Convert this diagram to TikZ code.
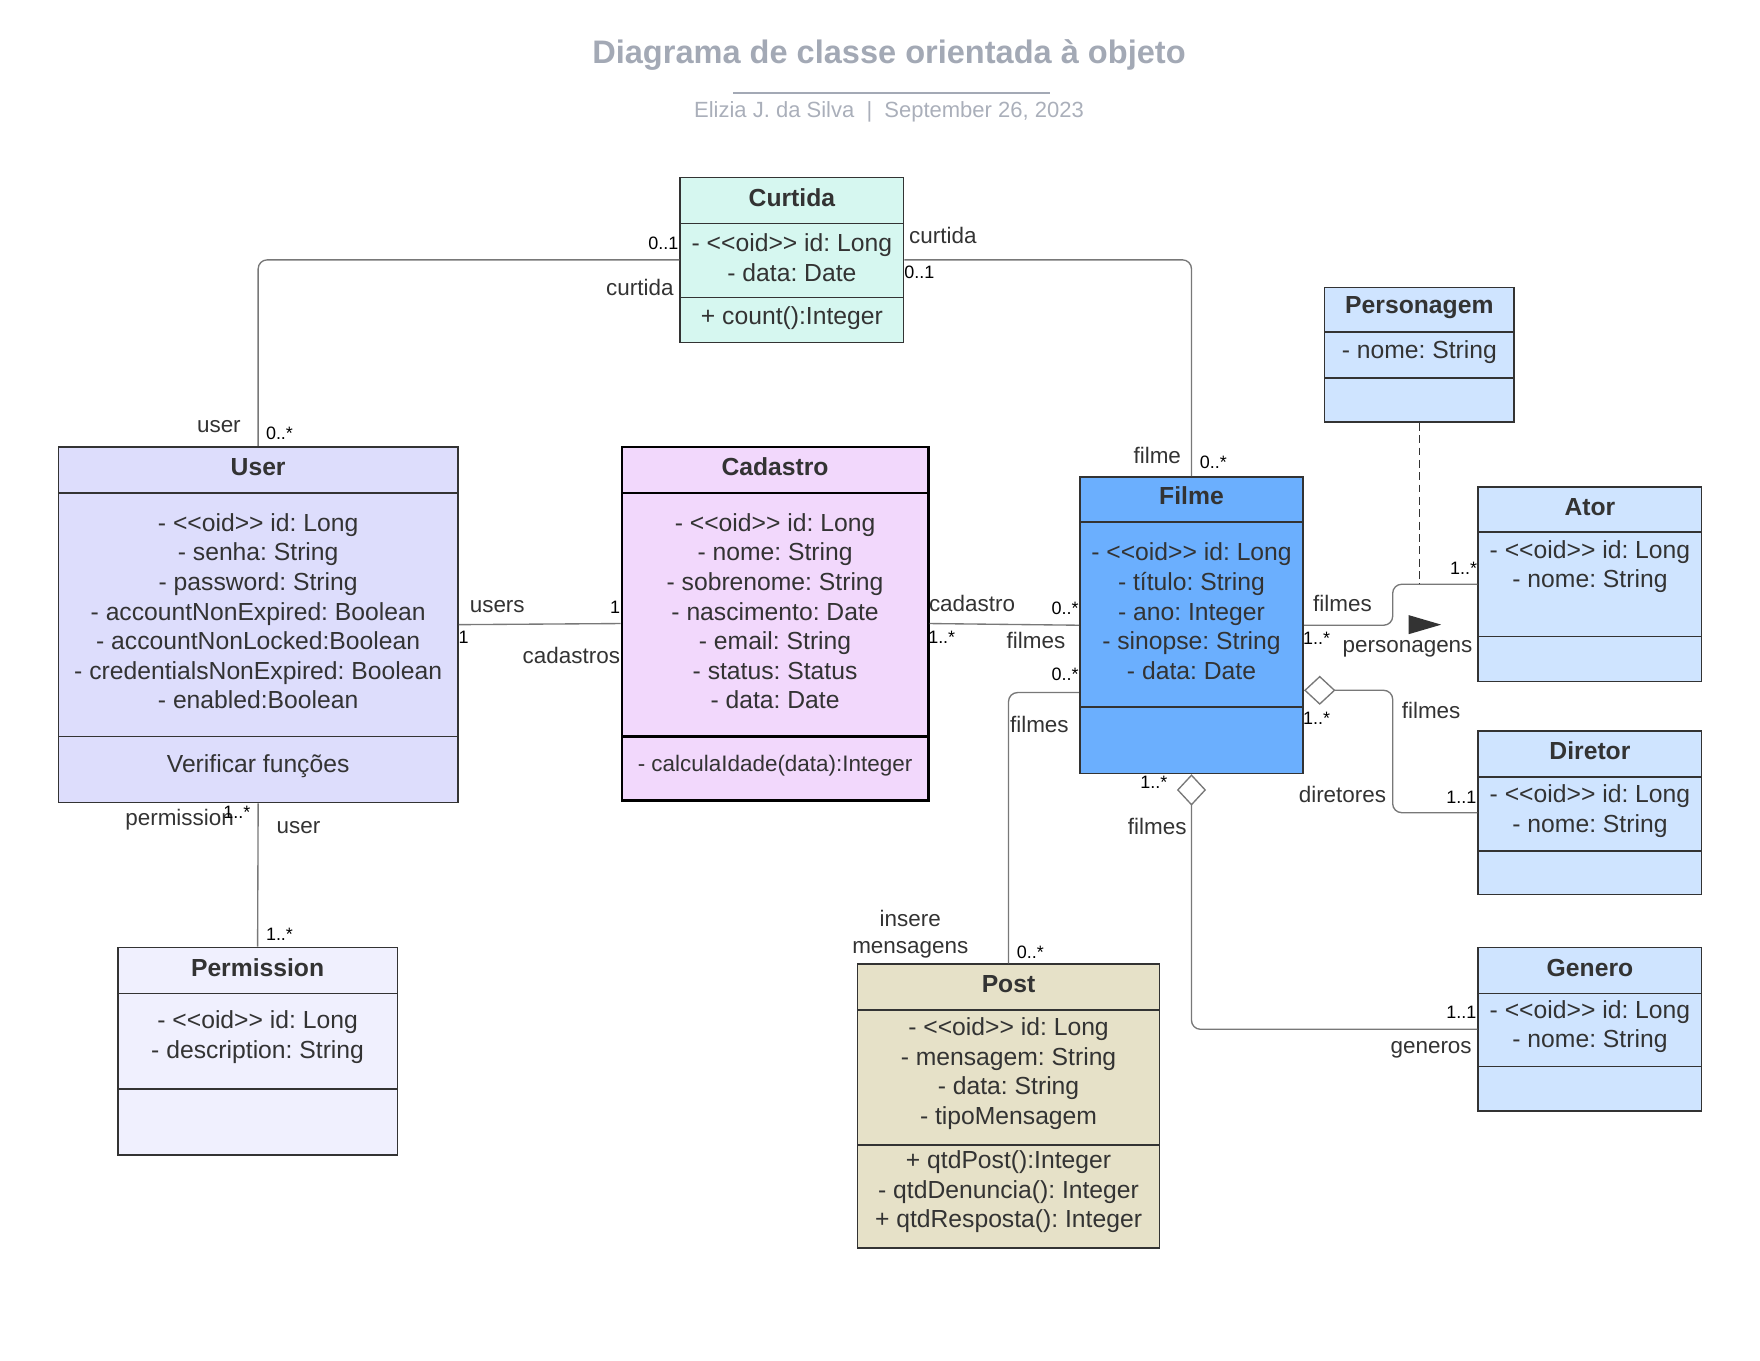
\documentclass[tikz,border=0pt]{standalone}
\usepackage{fontspec}
\setmainfont{Liberation Sans}[Ligatures=TeXOff]
\frenchspacing
\usetikzlibrary{arrows.meta,calc,fit}
\definecolor{txt}{RGB}{51,51,51}
\definecolor{boxline}{RGB}{51,51,51}
\definecolor{conn}{RGB}{120,120,120}
\definecolor{titleGrey}{RGB}{163,169,181}
\definecolor{subGrey}{RGB}{170,175,186}
\definecolor{curtidaFill}{RGB}{214,247,240}
\definecolor{userFill}{RGB}{221,221,252}
\definecolor{cadFill}{RGB}{242,216,252}
\definecolor{filmeFill}{RGB}{107,175,254}
\definecolor{blueLight}{RGB}{207,228,255}
\definecolor{permFill}{RGB}{240,240,254}
\definecolor{postFill}{RGB}{230,225,200}
\begin{document}
\begin{tikzpicture}[x=0.5pt,y=-0.5pt,
  box/.style={draw=boxline, line width=0.75pt, inner sep=0pt},
  sepline/.style={draw=boxline, line width=0.75pt},
  ttl/.style={font=\fontsize{11}{13}\selectfont\bfseries, text=txt, inner sep=0pt},
  attr/.style={font=\fontsize{11}{13.15}\selectfont, text=txt, align=center, inner sep=0pt},
  role/.style={font=\fontsize{10}{12}\selectfont, text=txt, inner sep=0pt, align=center},
  mult/.style={font=\fontsize{8}{9.6}\selectfont, text=black, inner sep=0pt},
  assoc/.style={draw=conn, line width=0.6pt, rounded corners=4pt},
  agg/.style={assoc, {Diamond[fill=white,length=14pt,width=13pt,line width=0.6pt]}-}]

\useasboundingbox (0,0) rectangle (1568,1212);

% ---------- title ----------
\node[font=\fontsize{14.5}{17}\selectfont\bfseries, text=titleGrey, inner sep=0pt] (title) at (792,49) {Diagrama de classe orientada à objeto};
\draw[titleGrey, line width=1pt] (653,83) -- (935,83);
\node[font=\fontsize{9.8}{12}\selectfont, text=subGrey, inner sep=0pt] (subtitle) at (792,100) {Elizia J. da Silva~~|~~September 26, 2023};

% ---------- Curtida ----------
\node[box, fill=curtidaFill, fit={(606,158) (805,305)}] (curtida) {};
\draw[sepline] (606,199) -- (805,199);
\draw[sepline] (606,265) -- (805,265);
\node[ttl] (curtidaT) at (705.5,176) {Curtida};
\node[attr] (curtidaA) at (705.5,229.5) {- <<oid>> id: Long\\- data: Date};
\node[attr] (curtidaM) at (705.5,283) {+ count():Integer};

% ---------- User ----------
\node[box, fill=userFill, fit={(52,398) (408,715)}] (user) {};
\draw[sepline] (52,439) -- (408,439);
\draw[sepline] (52,656) -- (408,656);
\node[ttl] (userT) at (230,416) {User};
\node[attr] (userA) at (230,544.5) {- <<oid>> id: Long\\- senha: String\\- password: String\\- accountNonExpired: Boolean\\- accountNonLocked:Boolean\\- credentialsNonExpired: Boolean\\- enabled:Boolean};
\node[attr] (userM) at (230,683) {Verificar funções};

% ---------- Cadastro ----------
\node[draw=black, line width=1.1pt, inner sep=0pt, fill=cadFill, fit={(554,398) (827,713)}] (cadastro) {};
\draw[black, line width=1.1pt] (554,439) -- (827,439);
\draw[black, line width=1.1pt] (554,656) -- (827,656);
\node[ttl] (cadastroT) at (690.5,416) {Cadastro};
\node[attr] (cadastroA) at (690.5,544.5) {- <<oid>> id: Long\\- nome: String\\- sobrenome: String\\- nascimento: Date\\- email: String\\- status: Status\\- data: Date};
\node[attr, font=\fontsize{10}{12}\selectfont] (cadastroM) at (690.5,682) {- calculaIdade(data):Integer};

% ---------- Filme ----------
\node[box, fill=filmeFill, fit={(962,425) (1161,689)}] (filme) {};
\draw[sepline] (962,465) -- (1161,465);
\draw[sepline] (962,630) -- (1161,630);
\node[ttl] (filmeT) at (1061.5,442) {Filme};
\node[attr] (filmeA) at (1061.5,544.5) {- <<oid>> id: Long\\- título: String\\- ano: Integer\\- sinopse: String\\- data: Date};

% ---------- Personagem ----------
\node[box, fill=blueLight, fit={(1180,256) (1349,376)}] (personagem) {};
\draw[sepline] (1180,296) -- (1349,296);
\draw[sepline] (1180,337) -- (1349,337);
\node[ttl] (personagemT) at (1264.5,274) {Personagem};
\node[attr] (personagemA) at (1264.5,314) {- nome: String};

% ---------- Ator ----------
\node[box, fill=blueLight, fit={(1317,434) (1516,607)}] (ator) {};
\draw[sepline] (1317,474) -- (1516,474);
\draw[sepline] (1317,567) -- (1516,567);
\node[ttl] (atorT) at (1416.5,452) {Ator};
\node[attr] (atorA) at (1416.5,505) {- <<oid>> id: Long\\- nome: String};

% ---------- Diretor ----------
\node[box, fill=blueLight, fit={(1317,651) (1516,797)}] (diretor) {};
\draw[sepline] (1317,692) -- (1516,692);
\draw[sepline] (1317,758) -- (1516,758);
\node[ttl] (diretorT) at (1416.5,669) {Diretor};
\node[attr] (diretorA) at (1416.5,722.5) {- <<oid>> id: Long\\- nome: String};

% ---------- Genero ----------
\node[box, fill=blueLight, fit={(1317,844) (1516,990)}] (genero) {};
\draw[sepline] (1317,885) -- (1516,885);
\draw[sepline] (1317,950) -- (1516,950);
\node[ttl] (generoT) at (1416.5,862) {Genero};
\node[attr] (generoA) at (1416.5,914.5) {- <<oid>> id: Long\\- nome: String};

% ---------- Permission ----------
\node[box, fill=permFill, fit={(105,844) (354,1029)}] (permission) {};
\draw[sepline] (105,885) -- (354,885);
\draw[sepline] (105,970) -- (354,970);
\node[ttl] (permissionT) at (229.5,862) {Permission};
\node[attr] (permissionA) at (229.5,924) {- <<oid>> id: Long\\- description: String};

% ---------- Post ----------
\node[box, fill=postFill, fit={(764,859) (1033,1112)}] (post) {};
\draw[sepline] (764,900) -- (1033,900);
\draw[sepline] (764,1020) -- (1033,1020);
\node[ttl] (postT) at (898.5,877) {Post};
\node[attr] (postA) at (898.5,956.5) {- <<oid>> id: Long\\- mensagem: String\\- data: String\\- tipoMensagem};
\node[attr] (postM) at (898.5,1062) {+ qtdPost():Integer\\- qtdDenuncia(): Integer\\+ qtdResposta(): Integer};

% ---------- connectors ----------
\draw[assoc] (user.north) |- (curtida.west);
\draw[assoc] (curtida.east) -| (filme.north);
\draw[assoc] (user.east) -- (cadastro.west);
\draw[assoc] (cadastro.east) -- (filme.west);
\draw[assoc] ($(filme.west)+(0,60)$) -| (post.north);
\draw[assoc] (filme.east) -- ++(79,0) |- (ator.west);
\draw[boxline, line width=0.6pt, dash pattern=on 3.5pt off 2pt] (personagem.south) -- (personagem.south |- ator.west);
\draw[agg] ($(filme.east)+(0,58)$) -- ++(79,0) |- (diretor.west);
\draw[agg] (filme.south) |- (genero.west);
\draw[assoc] (user.south) -- (permission.north);
\fill[txt] (1255,548) -- (1284,556.5) -- (1255,565) -- cycle;

% ---------- labels ----------
\node[role] (l1) at (195,380) {user};
\node[mult] (m1) at (249,386) {0..*};
\node[mult] (m2) at (591,217) {0..1};
\node[role] (l2) at (570,256) {curtida};
\node[role] (l3) at (840,210) {curtida};
\node[mult] (m3) at (819,243) {0..1};
\node[role] (l4) at (1031,406) {filme};
\node[mult] (m4) at (1081,412) {0..*};
\node[role] (l5) at (443,540) {users};
\node[mult] (m5) at (413,568) {1};
\node[mult] (m6) at (548,541) {1};
\node[role] (l6) at (509,584) {cadastros};
\node[role] (l7) at (866,538) {cadastro};
\node[mult] (m7) at (839,568) {1..*};
\node[mult] (m8) at (949,542) {0..*};
\node[role] (l8) at (923,571) {filmes};
\node[mult] (m9) at (949,601) {0..*};
\node[role] (l9) at (926,645) {filmes};
\node[role, font=\fontsize{10}{12.2}\selectfont] (l10) at (811,832) {insere\\mensagens};
\node[mult] (m10) at (918,848) {0..*};
\node[role] (l11) at (1196,538) {filmes};
\node[mult] (m11) at (1173,569) {1..*};
\node[mult] (m12) at (1304,506) {1..*};
\node[role] (l12) at (1254,578) {personagens};
\node[role] (l13) at (1275,633) {filmes};
\node[mult] (m13) at (1173,640) {1..*};
\node[role] (l14) at (1196,708) {diretores};
\node[mult] (m14) at (1302,710) {1..1};
\node[mult] (m15) at (1028,697) {1..*};
\node[role] (l15) at (1031,736) {filmes};
\node[mult] (m16) at (1302,902) {1..1};
\node[role] (l16) at (1275,935) {generos};
\node[role] (l17) at (160,730) {permission};
\node[mult] (m17) at (211,724) {1..*};
\node[role] (l18) at (266,737) {user};
\node[mult] (m18) at (249,832) {1..*};
\end{tikzpicture}
\end{document}
